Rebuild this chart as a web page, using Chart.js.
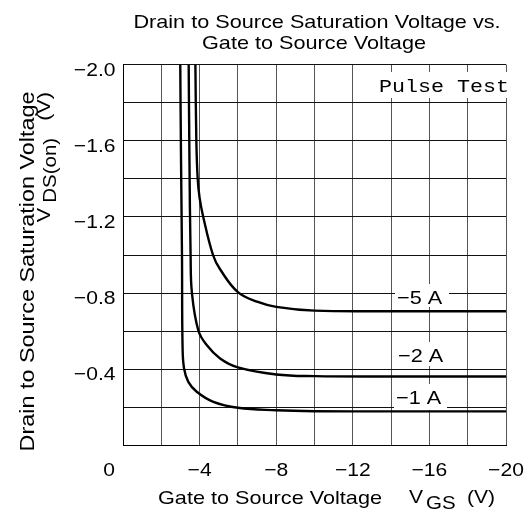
<!DOCTYPE html>
<html>
<head>
<meta charset="utf-8">
<script src="https://cdn.jsdelivr.net/npm/chart.js@4/dist/chart.umd.min.js"></script>
<style>
  body { margin: 0; background: #fff; }
</style>
</head>
<body>
<canvas id="vds-chart" width="530" height="512"></canvas>
<script>
// curves (VGS, VDS(on) in volts)
var vgs1A = [-2.99, -3.03, -3.08, -3.11, -3.19, -3.41, -3.85, -4.72, -6.0, -8.0, -10.0, -14, -20];
var vds1A = [-2.0, -1.5, -1.0, -0.52, -0.404, -0.334, -0.282, -0.229, -0.198, -0.185, -0.18, -0.179, -0.179];

var vgs2A = [-3.43, -3.47, -3.53, -3.60, -3.93, -4.37, -5.07, -6.0, -8.0, -10.0, -14, -20];
var vds2A = [-2.0, -1.5, -1.0, -0.8, -0.605, -0.527, -0.457, -0.41, -0.373, -0.364, -0.362, -0.362];

var vgs5A = [-3.78, -3.83, -3.90, -4.0, -4.19, -4.7, -5.07, -6.0, -7.0, -8.0, -10.0, -14, -20];
var vds5A = [-2.0, -1.6, -1.4, -1.3, -1.2, -1.0, -0.925, -0.805, -0.755, -0.728, -0.708, -0.705, -0.705];

var currents = ["\u22125 A", "\u22122 A", "\u22121 A"];
var xTicks = [0, -4, -8, -12, -16, -20];
var yTicks = [-2.0, -1.6, -1.2, -0.8, -0.4];

var SANS = '"Liberation Sans", Arial, sans-serif';
var MONO = '"Liberation Mono", "Courier New", monospace';
var SX = 1.14; // the datasheet font is a bit wide

function toPoints(xs, ys) {
  var pts = [];
  for (var i = 0; i < xs.length; i++) pts.push({ x: xs[i], y: ys[i] });
  return pts;
}

function minus(v, digits) {
  if (v === 0) return "0";
  return "\u2212" + Math.abs(v).toFixed(digits);
}

// draws text stretched along its own direction
function wideText(ctx, str, x, y, size, align, rot, family) {
  ctx.save();
  ctx.translate(x, y);
  if (rot) ctx.rotate(rot);
  ctx.scale(SX, 1);
  ctx.font = size + "px " + (family || SANS);
  ctx.fillStyle = "#000";
  ctx.textAlign = align || "left";
  ctx.textBaseline = "alphabetic";
  ctx.fillText(str, 0, 0);
  ctx.restore();
}

function textWidth(ctx, str, size, family) {
  ctx.save();
  ctx.font = size + "px " + (family || SANS);
  var w = ctx.measureText(str).width * SX;
  ctx.restore();
  return w;
}

function whiteBox(ctx, x, y, w, h) {
  ctx.save();
  ctx.fillStyle = "#fff";
  ctx.fillRect(x, y, w, h);
  ctx.restore();
}

var textPlugin = {
  id: "datasheetText",
  afterDraw: function(chart) {
    var ctx = chart.ctx;
    var xs = chart.scales.x, ys = chart.scales.y;

    // title
    wideText(ctx, "Drain to Source Saturation Voltage vs.", 317, 28, 19, "center");
    wideText(ctx, "Gate to Source Voltage", 314, 49, 19, "center");

    // tick labels
    yTicks.forEach(function(v) {
      wideText(ctx, minus(v, 1), 115.5, ys.getPixelForValue(v) + 11, 18.5, "right");
    });
    xTicks.forEach(function(v) {
      var px = v === 0 ? 109 : xs.getPixelForValue(v);
      wideText(ctx, minus(v, 0), px, 476, 18.5, "center");
    });

    // x axis title
    wideText(ctx, "Gate to Source Voltage", 158, 504, 19, "left");
    wideText(ctx, "V", 409, 503, 18.5, "left");
    wideText(ctx, "GS", 426, 509, 18, "left");
    wideText(ctx, "(V)", 467, 503, 18.5, "left");

    // y axis title (rotated)
    var rot = -Math.PI / 2;
    wideText(ctx, "Drain to Source Saturation Voltage", 33.5, 271.5, 20.5, "center", rot);
    var wV = textWidth(ctx, "V", 19), wDS = textWidth(ctx, "DS(on)", 18),
        wU = textWidth(ctx, "(V)", 19);
    var y0 = 92 + wV + 5 + wDS + 17 + wU;
    wideText(ctx, "V", 50, y0, 19, "left", rot);
    wideText(ctx, "DS(on)", 56, y0 - wV - 5, 18, "left", rot);
    wideText(ctx, "(V)", 50, y0 - wV - 5 - wDS - 17, 19, "left", rot);

    // current labels on the curves
    var spots = [[395, 284, 54, 23, 397, 304], [396, 342, 52, 24, 398, 362], [394, 384, 53, 26, 396, 404]];
    spots.forEach(function(s, i) {
      whiteBox(ctx, s[0], s[1], s[2], s[3]);
      wideText(ctx, currents[i], s[4], s[5], 19, "left");
    });

    // pulse test note
    whiteBox(ctx, 377, 72, 135, 26);
    wideText(ctx, "Pulse Test", 379, 92, 19, "left", 0, MONO);
  }
};

function lineSet(xs, ys) {
  return {
    data: toPoints(xs, ys),
    borderColor: "#000",
    borderWidth: 2.4,
    pointRadius: 0,
    fill: false,
    tension: 0.4
  };
}

new Chart(document.getElementById("vds-chart"), {
  type: "line",
  data: {
    datasets: [lineSet(vgs5A, vds5A), lineSet(vgs2A, vds2A), lineSet(vgs1A, vds1A)]
  },
  options: {
    responsive: false,
    animation: false,
    layout: { padding: { left: 123, right: 24, top: 64.5, bottom: 66.5 } },
    plugins: {
      legend: { display: false },
      title: { display: false },
      tooltip: { enabled: false }
    },
    scales: {
      x: {
        type: "linear",
        min: -20, max: 0,
        reverse: true,
        ticks: { display: false, stepSize: 2 },
        grid: { color: "#555", lineWidth: 1, drawTicks: false },
        border: { color: "#000", width: 1 },
        afterFit: function(s) { s.height = 0; }
      },
      y: {
        type: "linear",
        min: -2, max: 0,
        reverse: true,
        ticks: { display: false, stepSize: 0.2 },
        grid: { color: "#111", lineWidth: 1, drawTicks: false },
        border: { color: "#000", width: 1 },
        afterFit: function(s) { s.width = 0; }
      }
    }
  },
  plugins: [textPlugin]
});
</script>
</body>
</html>
